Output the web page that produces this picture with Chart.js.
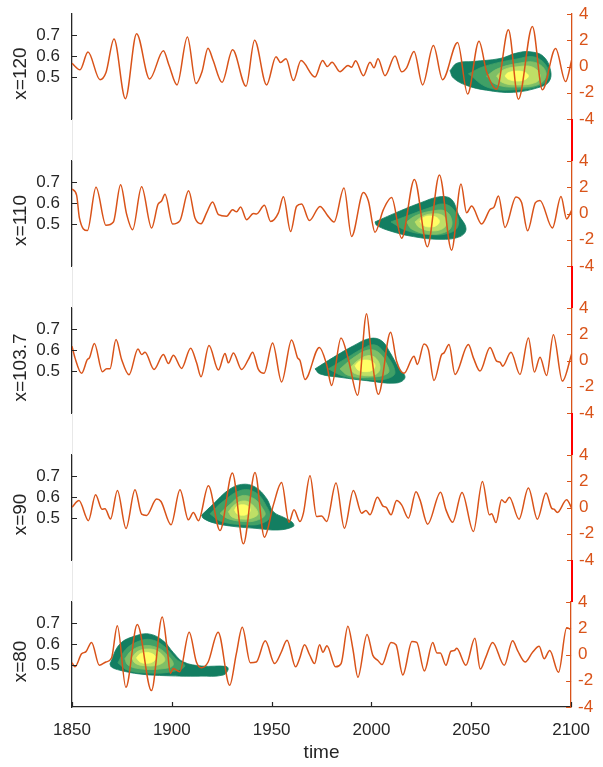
<!DOCTYPE html>
<html>
<head>
<meta charset="utf-8">
<script src="https://cdn.jsdelivr.net/npm/chart.js@4.4.1/dist/chart.umd.min.js"></script>
<style>
  html, body { margin: 0; padding: 0; background: #fff; }
  #page { position: relative; width: 603px; height: 767px; overflow: hidden; }
  .panel { position: absolute; left: 0; z-index: 1; }
  .gap { position: absolute; z-index: 2; }
</style>
</head>
<body>
<div id="page"></div>
<script>
// labels and ticks
const panelLabels = ["x=120", "x=110", "x=103.7", "x=90", "x=80"];
const leftTicks = [0.5, 0.6, 0.7];
const rightTicks = [-4, -2, 0, 2, 4];
const timeTicks = [1850, 1900, 1950, 2000, 2050, 2100];

// signal (right axis) for each panel
const yearsX120 = [1850, 1854, 1858, 1864, 1867, 1871, 1876.7, 1882.3, 1888.8, 1895.7, 1898.5, 1902.5, 1907.7, 1912, 1915, 1918, 1920.5, 1925, 1930.3, 1937, 1941.3, 1947.3, 1952, 1954.3, 1957, 1960.7, 1964.5, 1971.5, 1975.3, 1977.7, 1980, 1984, 1988, 1989.8, 1991.8, 1995.7, 1999, 2001, 2003, 2006.5, 2011.5, 2014.8, 2017.3, 2021, 2025.3, 2030.7, 2035.3, 2042.8, 2047.8, 2053.5, 2057.3, 2062.3, 2068.2, 2073.2, 2080.2, 2085.2, 2091.8, 2096.8, 2100];
const signalX120 = [0.25, -0.25, 1.1, -1.0, -0.45, 2.1, -2.45, 2.5, -0.95, 1.2, 0.1, -1.4, 2.25, -1.3, -0.4, 1.4, 0.5, -1.2, 1.27, -1.5, 2.0, -1.4, 0.75, 0.3, 0.6, -1.07, 0.45, -0.8, 0.45, 0.0, 0.33, -0.4, 0.08, -0.05, 0.43, -0.7, 0.33, -0.1, 0.6, -0.7, 0.8, -0.4, -0.1, 1.15, -1.4, 1.6, -1.0, 1.83, -2.1, 1.93, -0.4, -1.73, 2.8, -2.5, 3.05, -1.78, 1.37, -1.15, 0.6];

const yearsX110 = [1850, 1852.3, 1853.7, 1857.7, 1862, 1867, 1870.7, 1874.3, 1877.3, 1880.3, 1884.8, 1889.8, 1893, 1894.8, 1896.5, 1900.3, 1904, 1908.3, 1911.5, 1914.5, 1917.3, 1920.3, 1923.2, 1927.3, 1930.3, 1932.3, 1934.3, 1937.3, 1940.7, 1942.3, 1946.2, 1949.3, 1953.2, 1955.7, 1959.3, 1962.3, 1964.8, 1968.7, 1974, 1978, 1981, 1986, 1989.8, 1995.7, 1998.2, 2001.5, 2005.7, 2009.8, 2014.8, 2021.2, 2027.7, 2033.7, 2039.8, 2044.5, 2047.3, 2049.8, 2054.8, 2059, 2061, 2063.2, 2066.5, 2072, 2074.8, 2077.8, 2081.7, 2084, 2090.2, 2094.5, 2097.3, 2100];
const signalX110 = [1.86, 1.4, -0.34, -1.3, 2.0, -0.9, -0.65, 2.2, -0.05, -1.24, 2.04, -1.1, 0.7, 0.95, 1.47, -0.8, -0.54, 1.73, -0.34, -0.78, 0.05, 0.88, -0.08, -0.2, 0.28, 0.13, 0.5, -0.47, 0.0, -0.03, 0.62, -0.6, 0.05, 1.27, -1.37, 0.55, 0.72, -0.54, 0.54, -0.2, -0.65, 1.94, -1.75, 1.6, 0.95, -1.42, 0.3, 1.21, -1.88, 2.6, -2.53, 2.94, -2.8, 2.25, 0.05, 0.57, -0.8, 0.3, 0.49, 1.34, -1.06, 1.26, 0.83, -1.32, 0.83, 1.0, -1.1, 1.29, -0.41, 0.3];

const yearsX1037 = [1850, 1851.5, 1854.8, 1857.7, 1858.7, 1861.2, 1865.2, 1867.3, 1869, 1872, 1874.8, 1878.5, 1883, 1884.8, 1886.5, 1891, 1895.7, 1898.2, 1900.7, 1904.8, 1909.3, 1912.3, 1914.5, 1918.5, 1923.2, 1926.5, 1928.2, 1930.7, 1934.8, 1938.2, 1940.3, 1943.2, 1946, 1950.3, 1954.8, 1959.8, 1962.8, 1964, 1966.5, 1973.7, 1977.3, 1979.8, 1984.5, 1988.2, 1992.8, 1997.3, 1999.8, 2003.2, 2009.3, 2012.3, 2016, 2021, 2022.7, 2026, 2028.2, 2031, 2034.8, 2036, 2038.5, 2041.5, 2048.2, 2050.7, 2054, 2059, 2062.3, 2064, 2065.3, 2069.5, 2074, 2078.2, 2081.2, 2084, 2087.3, 2090.7, 2095.2, 2100];
const signalX1037 = [1.09, 0.2, -0.98, 0.08, 0.2, 1.29, -0.86, -0.63, -0.63, 1.6, 0.08, -1.09, 0.88, 0.45, 0.63, -0.68, 0.45, -0.23, 0.4, -0.6, 0.93, -0.18, -1.24, 1.14, -0.73, 0.53, -0.18, 0.58, -0.68, 0.08, 0.63, -0.68, -0.98, 1.34, -1.64, 1.57, 0.2, 0.0, -1.44, 1.0, -0.3, -1.9, 1.72, 0.08, -2.65, 3.56, 0.33, -2.58, 2.15, -0.05, -0.98, 0.33, -0.3, 1.26, 0.83, -1.52, 0.45, 0.58, 1.21, -1.06, 1.21, 0.2, -0.8, 1.0, -0.05, -0.13, -0.43, 0.63, -1.06, 1.72, -0.88, 0.25, -1.14, 1.97, -1.57, 0.6];

const yearsX90 = [1850, 1853.5, 1858.2, 1861.8, 1865, 1866.5, 1869.3, 1872.7, 1877, 1881.5, 1884.8, 1887.3, 1892.3, 1894.5, 1899.5, 1904, 1908.2, 1910.7, 1913.2, 1918.2, 1924, 1930.2, 1935.7, 1941.5, 1946.2, 1950.7, 1954.8, 1958.5, 1961, 1964, 1965.7, 1969, 1972.3, 1974.8, 1977.3, 1982, 1986.2, 1990.7, 1994.8, 1997, 1999, 2002.7, 2005.7, 2007, 2009.5, 2012.3, 2014.8, 2018.2, 2022, 2024, 2027.8, 2034.3, 2037, 2040.3, 2045, 2050.7, 2055.2, 2058.7, 2059.8, 2062, 2064.8, 2066.5, 2068.7, 2073.5, 2078.2, 2082.7, 2087, 2089.8, 2091, 2092.7, 2097.3, 2100];
const signalX90 = [0.03, 0.53, -1.0, 0.97, -0.13, -0.1, -0.87, 1.3, -1.6, 1.35, -0.5, -0.6, 0.64, 0.46, -1.32, 1.35, -0.94, -0.38, -1.0, 1.65, -1.76, 2.62, -2.77, 2.67, -2.26, 0.2, 1.9, -1.12, -0.18, -1.07, -0.43, 2.42, -0.69, -0.64, -1.07, 1.86, -1.58, 1.3, -0.43, -0.23, -0.56, 0.79, 0.08, 0.03, -0.56, 0.53, 0.2, -0.81, 1.2, 0.58, -1.27, 1.17, -0.18, -1.12, 1.15, -1.83, 1.98, -0.56, -0.48, -1.15, 0.59, 0.38, 0.79, -0.89, 1.48, -0.89, 1.1, -0.05, -0.13, -0.38, 0.59, -0.1];

const yearsX80 = [1850, 1851.5, 1854.8, 1857, 1859.8, 1863.7, 1867, 1869.8, 1872.7, 1877, 1882.7, 1889.8, 1895.2, 1897.7, 1899.3, 1900.7, 1902.3, 1904, 1908.7, 1912.3, 1914.8, 1918.2, 1923.2, 1929, 1932.3, 1935.3, 1939.3, 1942.3, 1946.8, 1951.5, 1954.8, 1957.7, 1962, 1964, 1966.5, 1969, 1971.5, 1974, 1975.7, 1977.7, 1982, 1984.8, 1988.2, 1990.7, 1993.2, 1997.8, 2000.7, 2003.2, 2005.3, 2009.8, 2012.3, 2015.7, 2020.3, 2022.7, 2026.5, 2030.7, 2032.8, 2034.5, 2037.3, 2039.8, 2041.5, 2042.7, 2047.3, 2051.8, 2054.5, 2057.3, 2060.7, 2066.5, 2070.7, 2073.2, 2077, 2080.7, 2084, 2086.5, 2089.3, 2093.7, 2097.8, 2100];
const signalX80 = [-0.62, -0.94, 0.05, 0.22, 0.92, -0.82, -0.57, -0.27, 2.2, -2.5, 2.28, -2.75, 2.85, 0.42, -1.44, -1.07, -1.19, -1.31, 1.7, -0.57, -1.01, -0.57, 1.7, -2.35, 0.05, 2.08, -0.62, -0.57, 1.04, -0.69, 0.17, 1.09, -0.94, -0.3, 0.74, -0.02, -0.69, 0.74, 0.17, 0.67, -0.94, -0.69, 2.15, 0.42, -1.73, 1.53, -0.07, -0.45, -0.77, 0.92, 0.74, -1.56, 0.99, 0.92, -1.26, 0.92, 0.12, 0.12, -0.82, 0.25, 0.3, 0.47, -0.82, 1.24, -1.11, -0.2, 0.92, -0.82, 1.04, 0.3, -0.57, 0.17, 0.62, -0.32, 0.3, -1.36, 2.03, 1.9];

// density contours (left axis), outermost level first, as [time, value]
const contourX120 = [
  [[2039, 0.53], [2042.5, 0.566], [2050.7, 0.574], [2064, 0.588], [2072.3, 0.614], [2079, 0.62], [2085.7, 0.598], [2089.3, 0.53], [2088.5, 0.478], [2084, 0.452], [2070.7, 0.427], [2057.3, 0.437], [2047.3, 0.46], [2040.7, 0.495]],
  [[2048.2, 0.515], [2056, 0.55], [2072, 0.585], [2082, 0.593], [2088.3, 0.53], [2086, 0.47], [2072, 0.44], [2058, 0.45]],
  [[2057.3, 0.505], [2063, 0.54], [2073, 0.565], [2082, 0.568], [2087, 0.52], [2084, 0.468], [2072, 0.452], [2062, 0.465]],
  [[2062.3, 0.505], [2066, 0.535], [2073, 0.549], [2080, 0.548], [2084, 0.51], [2082, 0.475], [2072, 0.462], [2065, 0.475]],
  [[2066.5, 0.505], [2068, 0.52], [2072.3, 0.528], [2076.5, 0.522], [2078.2, 0.505], [2076.5, 0.488], [2072.3, 0.481], [2068, 0.49]]
];
const contourX110 = [
  [[2001.5, 0.51], [2014, 0.562], [2024, 0.6], [2034, 0.63], [2039.8, 0.617], [2043.2, 0.546], [2047, 0.478], [2044, 0.44], [2034, 0.427], [2020.7, 0.44], [2009, 0.467], [2002.3, 0.494]],
  [[2009.5, 0.51], [2018, 0.54], [2028, 0.575], [2036, 0.595], [2041.5, 0.56], [2043, 0.49], [2038, 0.455], [2028, 0.45], [2017, 0.47]],
  [[2017.3, 0.51], [2022, 0.54], [2030, 0.562], [2037, 0.56], [2040, 0.51], [2038, 0.468], [2029, 0.451], [2020, 0.475]],
  [[2021.5, 0.51], [2025, 0.535], [2030, 0.548], [2035.5, 0.54], [2037.3, 0.505], [2035, 0.476], [2029, 0.468], [2023.5, 0.485]],
  [[2024, 0.513], [2025.5, 0.53], [2029, 0.538], [2032.5, 0.53], [2033.7, 0.512], [2032.3, 0.493], [2029, 0.486], [2025.5, 0.494]]
];
const contourX1037 = [
  [[1971.5, 0.51], [1980.7, 0.565], [1990.7, 0.62], [1999, 0.655], [2004.8, 0.644], [2009, 0.588], [2013.2, 0.517], [2016.5, 0.47], [2012.3, 0.443], [1997.3, 0.454], [1984, 0.47], [1974, 0.486]],
  [[1978.2, 0.51], [1987, 0.56], [1995, 0.605], [2001, 0.625], [2006, 0.59], [2011.5, 0.494], [2007, 0.462], [1997.3, 0.46], [1986, 0.475]],
  [[1984, 0.51], [1991, 0.565], [1998, 0.6], [2003, 0.59], [2007, 0.54], [2008, 0.49], [1997.3, 0.47], [1988, 0.48]],
  [[1989, 0.515], [1993, 0.55], [1998, 0.573], [2002, 0.56], [2004, 0.515], [2002, 0.485], [1997, 0.478], [1991, 0.49]],
  [[1991.5, 0.525], [1993.5, 0.545], [1996.5, 0.552], [2000, 0.545], [2001.5, 0.525], [2000, 0.503], [1996.5, 0.497], [1993, 0.505]]
];
const contourX90 = [
  [[1914.8, 0.514], [1921, 0.57], [1928.2, 0.633], [1934.8, 0.66], [1941.5, 0.648], [1947.3, 0.593], [1950.7, 0.53], [1956.5, 0.5], [1960.3, 0.478], [1960.7, 0.46], [1953.2, 0.443], [1941.5, 0.451], [1931.5, 0.459], [1921.5, 0.475], [1915.7, 0.498]],
  [[1919, 0.52], [1925, 0.575], [1934.8, 0.633], [1942, 0.62], [1947, 0.56], [1949, 0.506], [1945, 0.475], [1938.2, 0.467], [1924.8, 0.483]],
  [[1924, 0.522], [1929, 0.565], [1934.8, 0.606], [1941, 0.592], [1945, 0.55], [1946.5, 0.514], [1942, 0.488], [1936.5, 0.483], [1928, 0.497]],
  [[1928.2, 0.53], [1931, 0.56], [1934.8, 0.58], [1939, 0.572], [1943, 0.522], [1940, 0.5], [1934.8, 0.495], [1930, 0.505]],
  [[1931.3, 0.538], [1932.5, 0.556], [1935.2, 0.563], [1938, 0.556], [1939.1, 0.538], [1938, 0.52], [1935.2, 0.513], [1932.5, 0.52]]
];
const contourX80 = [
  [[1869, 0.505], [1874, 0.6], [1882.3, 0.64], [1889, 0.647], [1895.7, 0.615], [1900.7, 0.56], [1905.7, 0.515], [1915, 0.495], [1927.3, 0.493], [1928.2, 0.478], [1925.7, 0.452], [1914, 0.447], [1897.3, 0.449], [1884, 0.457], [1874, 0.475], [1869.8, 0.49]],
  [[1873, 0.51], [1877, 0.575], [1884, 0.615], [1890, 0.62], [1896, 0.59], [1902, 0.53], [1906.5, 0.495], [1900, 0.468], [1888, 0.462], [1878, 0.475]],
  [[1876.5, 0.53], [1880, 0.57], [1886, 0.592], [1892, 0.585], [1897, 0.555], [1900.7, 0.5], [1894, 0.481], [1884, 0.482], [1878, 0.5]],
  [[1880, 0.535], [1883, 0.565], [1888, 0.576], [1893, 0.565], [1896.5, 0.525], [1893, 0.5], [1886, 0.497], [1881.5, 0.51]],
  [[1882.3, 0.534], [1884, 0.552], [1887, 0.56], [1890.5, 0.552], [1892, 0.534], [1890.5, 0.515], [1887, 0.508], [1884, 0.515]]
];

const panelYears = [yearsX120, yearsX110, yearsX1037, yearsX90, yearsX80];
const panelSignals = [signalX120, signalX110, signalX1037, signalX90, signalX80];
const panelContours = [contourX120, contourX110, contourX1037, contourX90, contourX80];

// layout and style
const levelColors = ["#137e61", "#40a066", "#80bf66", "#bfdf66", "#ffff66"];
const lineColor = "#d95319";
const axisColor = "#262626";
const panelTops = [14, 161, 308, 455, 602];
const panelHeight = 105;
const plotLeft = 72;
const plotRight = 572;
const pad = 12;

Chart.defaults.font.family = "'Liberation Sans', Arial, sans-serif";

const panelDecor = {
    id: "panelDecor",
    afterDraw(chart, args, opts) {
        const { ctx, chartArea: a, scales } = chart;
        ctx.save();
        ctx.lineWidth = 1.2;
        ctx.strokeStyle = axisColor;
        ctx.beginPath();
        leftTicks.forEach((v) => {
            const y = Math.round(scales.yL.getPixelForValue(v)) + 0.5;
            ctx.moveTo(a.left, y);
            ctx.lineTo(a.left + 5, y);
        });
        if (opts.showTime) {
            timeTicks.forEach((v) => {
                const x = Math.round(scales.x.getPixelForValue(v)) + 0.5;
                ctx.moveTo(x, a.bottom);
                ctx.lineTo(x, a.bottom - 5);
            });
        }
        ctx.stroke();
        ctx.strokeStyle = lineColor;
        ctx.beginPath();
        rightTicks.forEach((v) => {
            const y = Math.round(scales.yR.getPixelForValue(v)) + 0.5;
            ctx.moveTo(a.right - 5, y);
            ctx.lineTo(a.right, y);
        });
        ctx.stroke();

        ctx.fillStyle = axisColor;
        ctx.font = "19px 'Liberation Sans', Arial, sans-serif";
        ctx.textAlign = "center";
        ctx.textBaseline = "middle";
        ctx.translate(21, (a.top + a.bottom) / 2 + 7);
        ctx.rotate(-Math.PI / 2);
        ctx.fillText(opts.label, 0, 0);
        ctx.restore();
    },
};

const page = document.getElementById("page");

panelTops.forEach((top, i) => {
    const isLast = i === panelTops.length - 1;
    const canvasTop = top - pad;
    const canvasHeight = isLast ? 767 - canvasTop : panelHeight + 2 * pad;
    const canvas = document.createElement("canvas");
    canvas.className = "panel";
    canvas.width = 603;
    canvas.height = canvasHeight;
    canvas.style.top = canvasTop + "px";
    canvas.style.width = "603px";
    canvas.style.height = canvasHeight + "px";
    page.appendChild(canvas);

    const years = panelYears[i];
    const signal = panelSignals[i];
    const datasets = [
        {
            label: "signal",
            data: years.map((t, k) => ({ x: t, y: signal[k] })),
            yAxisID: "yR",
            borderColor: lineColor,
            borderWidth: 1.5,
            pointRadius: 0,
            cubicInterpolationMode: "monotone",
            fill: false,
            order: 0,
        },
    ];
    panelContours[i].forEach((level, k) => {
        const closed = level.concat([level[0]]);
        datasets.push({
            label: "level " + (k + 1),
            data: closed.map((p) => ({ x: p[0], y: p[1] })),
            yAxisID: "yL",
            borderColor: levelColors[k],
            backgroundColor: levelColors[k],
            borderWidth: 0.8,
            pointRadius: 0,
            tension: 0.4,
            fill: "shape",
            order: 10 - k,
        });
    });

    new Chart(canvas, {
        type: "line",
        data: { datasets },
        options: {
            responsive: false,
            maintainAspectRatio: false,
            animation: false,
            events: [],
            layout: { padding: { top: pad, bottom: isLast ? 0 : pad, left: 0, right: 0 } },
            plugins: {
                legend: { display: false },
                tooltip: { enabled: false },
                panelDecor: { label: panelLabels[i], showTime: isLast },
            },
            scales: {
                x: {
                    type: "linear",
                    min: 1850,
                    max: 2100,
                    display: isLast,
                    afterBuildTicks: (s) => { s.ticks = timeTicks.map((v) => ({ value: v })); },
                    afterFit: (s) => { s.height = isLast ? 60 : 0; },
                    grid: { display: false, drawTicks: false },
                    border: { display: true, color: axisColor, width: 1.3 },
                    ticks: {
                        color: axisColor,
                        font: { size: 17 },
                        padding: 13,
                        maxRotation: 0,
                        autoSkip: false,
                        callback: (v) => String(v),
                    },
                    title: {
                        display: true,
                        text: "time",
                        color: axisColor,
                        font: { size: 19 },
                        padding: { top: 0, bottom: 3 },
                    },
                },
                yL: {
                    type: "linear",
                    position: "left",
                    min: 0.3,
                    max: 0.8,
                    afterBuildTicks: (s) => { s.ticks = leftTicks.map((v) => ({ value: v })); },
                    afterFit: (s) => { s.width = plotLeft; s.paddingTop = 0; s.paddingBottom = 0; },
                    grid: { display: false, drawTicks: false },
                    border: { display: true, color: axisColor, width: 1.3 },
                    ticks: {
                        color: axisColor,
                        font: { size: 17 },
                        padding: 12,
                        autoSkip: false,
                        callback: (v) => v.toFixed(1),
                    },
                },
                yR: {
                    type: "linear",
                    position: "right",
                    min: -4,
                    max: 4,
                    afterBuildTicks: (s) => { s.ticks = rightTicks.map((v) => ({ value: v })); },
                    afterFit: (s) => { s.width = 603 - plotRight; s.paddingTop = 0; s.paddingBottom = 0; },
                    grid: { display: false, drawTicks: false },
                    border: { display: true, color: lineColor, width: 1.3 },
                    ticks: {
                        color: lineColor,
                        font: { size: 17 },
                        padding: 7,
                        autoSkip: false,
                        callback: (v) => String(v),
                    },
                },
            },
        },
        plugins: [panelDecor],
    });
});

// right axis joins between panels (red) and faint left joins
for (let i = 0; i < panelTops.length - 1; i++) {
    const y0 = panelTops[i] + panelHeight;
    const y1 = panelTops[i + 1];
    const red = document.createElement("div");
    red.className = "gap";
    red.style.cssText = `left:${plotRight - 0.7}px;top:${y0}px;width:1.4px;height:${y1 - y0}px;background:#ff0000;`;
    page.appendChild(red);
    const grey = document.createElement("div");
    grey.className = "gap";
    grey.style.cssText = `left:${plotLeft - 0.5}px;top:${y0}px;width:1px;height:${y1 - y0}px;background:#e8e8e8;`;
    page.appendChild(grey);
}
</script>
</body>
</html>
